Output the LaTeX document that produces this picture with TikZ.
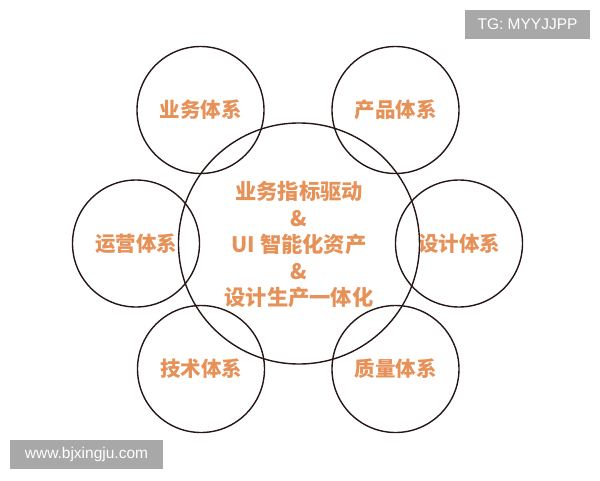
\documentclass[tikz,border=0pt]{standalone}
\usepackage{fontspec}
\setmainfont{Liberation Sans}
\newfontfamily\cjk{Noto Sans CJK SC}
\definecolor{ringline}{RGB}{38,22,22}
\definecolor{labeltext}{RGB}{230,145,88}
\definecolor{markbox}{RGB}{168,168,168}
\tikzset{
  ring/.style={circle, draw=ringline, line width=1.4pt, inner sep=0pt,
    minimum size=127pt, text=labeltext, font=\cjk\bfseries\fontsize{20.5}{24}\selectfont},
  hub/.style={ring, minimum size=241pt},
  markbox/.style={fill=markbox, text=white, inner sep=0pt, font=\fontsize{15.5}{18}\selectfont}
}
\begin{document}
\begin{tikzpicture}[x=1pt,y=-1pt]
  \useasboundingbox (0,0) rectangle (600,480);
  % outer rings
  \node[ring] (yewu) at (200.5,110) {业务体系};
  \node[ring] (chanpin) at (395.5,110) {产品体系};
  \node[ring] (yunying) at (136,243.5) {运营体系};
  \node[ring] (sheji) at (459,243.5) {设计体系};
  \node[ring] (jishu) at (201,369) {技术体系};
  \node[ring] (zhiliang) at (395.5,369) {质量体系};
  % centre ring
  \node[hub] (core) at (299,243.5) {};
  \node[text=labeltext, font=\cjk\bfseries\fontsize{21.3}{26.5}\selectfont, align=center]
    (coretext) at (299,245) {业务指标驱动\\\&\\UI 智能化资产\\\&\\设计生产一体化};
  % watermarks
  \node[markbox, minimum width=125pt, minimum height=29pt] (tg) at (527.5,24.5) {TG: MYYJJPP};
  \node[markbox, minimum width=153pt, minimum height=29pt] (site) at (86.5,454.5) {www.bjxingju.com};
\end{tikzpicture}
\end{document}
